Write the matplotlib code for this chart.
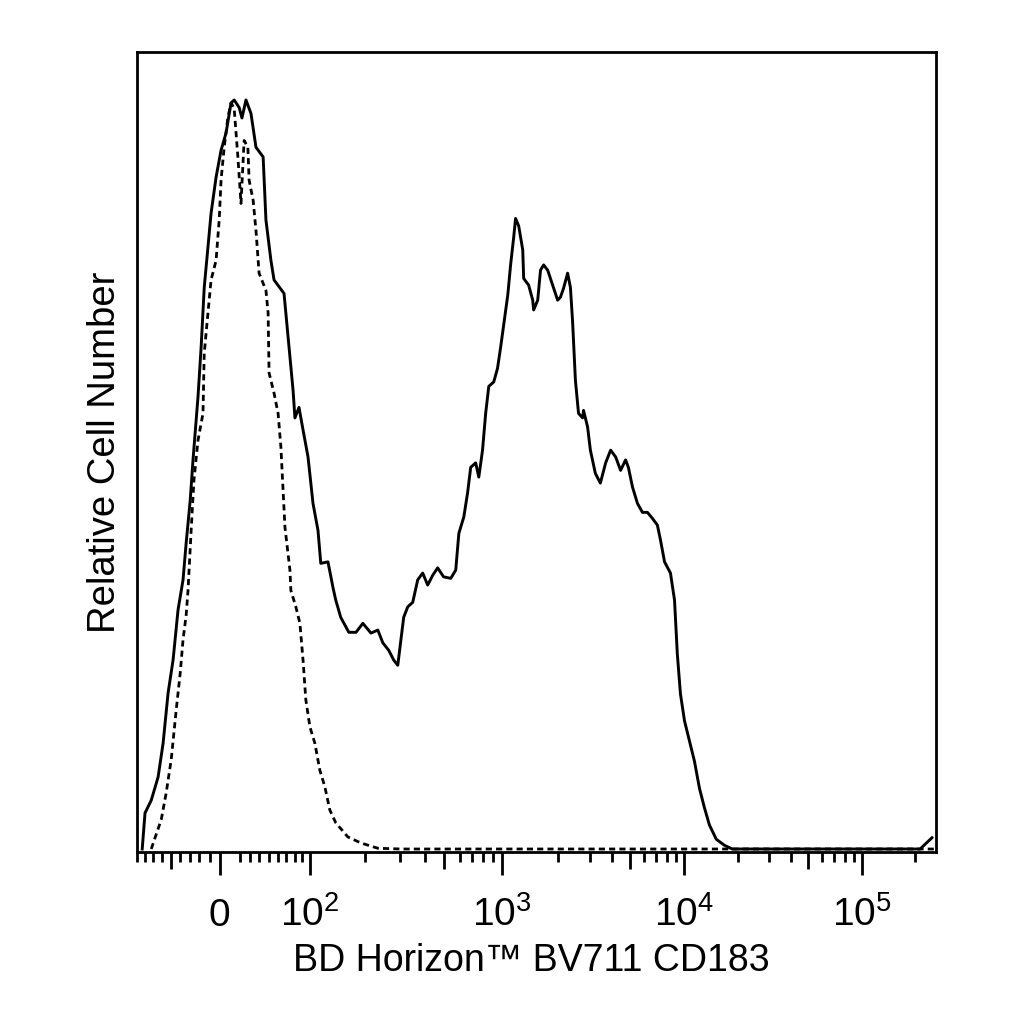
import numpy as np
import matplotlib
matplotlib.use("Agg")
import matplotlib.pyplot as plt

plt.rcParams['font.family'] = ['Liberation Sans', 'DejaVu Sans']
plt.rcParams['mathtext.fontset'] = 'custom'
plt.rcParams['mathtext.rm'] = 'Liberation Sans'

# histogram: x in display channels (0-256, biexponential), y = relative count
solid_ch = [1.3, 2.2, 4.2, 6.4, 8.0, 9.6, 11.2, 12.8, 14.4, 15.4,
            16.7, 17.6, 18.6, 19.2, 20.2, 21.2, 22.4, 23.4, 25.0, 26.6,
            28.2, 29.8, 30.8, 32.4, 33.3, 34.6, 36.2, 37.8, 40.1, 41.0,
            42.6, 43.6, 46.8, 48.1, 49.7, 50.3, 51.6, 52.9, 54.5, 56.1,
            57.7, 58.6, 60.9, 62.5, 63.4, 65.0, 67.6, 69.9, 72.1, 74.7,
            76.9, 78.5, 80.4, 82.0, 83.3, 84.3, 85.2, 86.5, 88.1, 89.7,
            91.3, 92.9, 94.5, 96.1, 98.0, 100.3, 101.9, 102.9, 104.5, 105.7,
            106.7, 108.3, 109.3, 110.5, 111.5, 112.5, 114.1, 115.3, 116.3, 117.3,
            118.6, 119.5, 120.5, 121.1, 122.1, 123.4, 123.7, 125.3, 126.6, 126.9,
            128.2, 129.1, 130.1, 131.4, 133.0, 134.6, 135.5, 136.5, 137.8, 138.7,
            139.4, 140.3, 141.3, 142.6, 142.9, 144.2, 145.1, 146.7, 148.3, 150.0,
            151.6, 153.2, 154.8, 156.4, 157.3, 158.6, 160.2, 161.8, 163.4, 165.0,
            166.6, 167.6, 168.9, 170.8, 172.1, 173.0, 174.0, 175.3, 176.9, 178.5,
            180.1, 181.7, 183.3, 185.5, 188.1, 190.6, 250.9, 254.7]
solid_count = [0, 4.8, 6.5, 9.6, 14.1, 20.8, 25.2, 31.9, 35.9, 40.8,
               46.5, 51.9, 57.2, 60.3, 66.9, 74.9, 80.3, 84.8, 89.6, 93.2,
               95.5, 99.5, 99.9, 98.9, 97.5, 99.9, 98.1, 93.6, 92.3, 83.9,
               78.5, 75.9, 74.1, 68.3, 61.2, 57.5, 58.9, 55.9, 52.3, 46.1,
               42.5, 38.1, 38.3, 34.9, 33.2, 30.9, 28.9, 28.9, 30.1, 28.8,
               29.2, 27.5, 26.5, 25.2, 24.5, 27.9, 30.9, 32.3, 32.9, 35.9,
               36.8, 35.2, 36.5, 37.5, 36.3, 36.1, 37.2, 42.1, 44.3, 47.5,
               50.9, 51.5, 49.6, 53.2, 58.1, 61.7, 62.3, 64.1, 66.9, 69.9,
               73.9, 77.9, 81.6, 84.1, 83.1, 79.9, 76.1, 75.2, 73.2, 71.9,
               73.2, 77.2, 77.9, 77.2, 75.2, 73.2, 73.6, 74.8, 76.8, 74.9,
               70.3, 62.5, 58.1, 57.5, 58.5, 56.3, 53.2, 50.1, 48.8, 51.5,
               53.2, 52.3, 50.5, 51.9, 50.9, 48.3, 46.1, 44.9, 44.9, 44.1,
               43.2, 41.2, 38.3, 36.8, 33.2, 26.0, 20.7, 17.1, 14.4, 11.7,
               8.1, 5.5, 3.2, 1.3, 0.5, 0, 0, 1.5]

dashed_ch = [4.2, 5.5, 7.4, 9.0, 10.6, 12.2, 13.5, 14.4, 15.4, 16.0,
             17.0, 17.9, 19.2, 20.8, 21.2, 22.4, 23.4, 25.0, 26.0, 26.6,
             27.6, 28.8, 29.8, 30.8, 32.0, 33.0, 34.0, 35.2, 35.6, 36.9,
             37.8, 38.8, 41.0, 41.7, 42.0, 43.6, 44.9, 45.8, 47.1, 48.7,
             49.0, 50.6, 51.9, 52.9, 53.8, 55.1, 56.7, 58.3, 59.9, 61.5,
             63.4, 67.3, 71.5, 76.9, 84.3, 255.7]
dashed_count = [0, 1.6, 3.9, 7.5, 11.9, 18.5, 23.5, 27.9, 31.2, 34.5,
                42.5, 49.2, 54.5, 58.1, 66.1, 71.5, 75.9, 78.5, 83.9, 89.2,
                93.6, 97.6, 99.5, 98.8, 92.3, 86.1, 94.5, 93.6, 89.2, 86.5,
                82.5, 76.8, 74.5, 71.5, 63.5, 60.8, 58.1, 53.6, 42.9, 37.2,
                34.5, 32.3, 30.1, 25.2, 19.9, 16.3, 14.1, 10.5, 8.3, 5.2,
                3.5, 1.6, 0.8, 0.1, 0, 0]

major_values = [0, 1e2, 1e3, 1e4, 1e5]
major_labels = ['0', r'$\mathregular{10^2}$', r'$\mathregular{10^3}$',
                r'$\mathregular{10^4}$', r'$\mathregular{10^5}$']
mid_values = [-50, 500, 5000, 50000]
minor_values = [-90, -80, -70, -60, -40, -30, -20, -10,
                20, 30, 40, 50, 60, 70, 80, 90,
                200, 300, 400, 600, 700, 800, 900,
                2000, 3000, 4000, 6000, 7000, 8000, 9000,
                20000, 30000, 40000, 60000, 70000, 80000, 90000,
                200000]


def logicle_channel(values, T=262144.0, M=4.5, W=0.46, n_channels=256):
    # biexponential (logicle) display: fluorescence value -> display channel
    ln10 = np.log(10)
    w = W * ln10
    m = M * ln10
    lo, hi = 1.0001, 20.0
    for _ in range(100):
        p = 0.5 * (lo + hi)
        if 2 * p * np.log(p) / (p + 1) > w:
            hi = p
        else:
            lo = p
    y = np.linspace(-0.2, 1.0, 20001) * m
    d = y - w
    ad = np.abs(d)
    s = np.sign(d) * T * np.exp(-(m - w)) * (np.exp(ad) - p**2 * np.exp(-ad / p) + p**2 - 1)
    return np.interp(values, s, y / m * n_channels)


fig = plt.figure(figsize=(10.24, 10.24), dpi=100)
ax = fig.add_axes([137 / 1024, 1 - 852 / 1024, 799 / 1024, 800 / 1024])

ax.plot(dashed_ch, dashed_count, color='black', lw=2.0, linestyle=(0, (2.2, 1.5)))
ax.plot(solid_ch, solid_count, color='black', lw=2.1)

ax.set_xlim(0, 256)
ax.set_ylim(-0.4, 106.3)

for sp in ax.spines.values():
    sp.set_linewidth(2.0)

ax.set_yticks([])
ax.set_xticks(logicle_channel(major_values))
ax.set_xticklabels(major_labels)
ax.set_xticks(logicle_channel(minor_values), minor=True)
ax.tick_params(axis='x', which='major', direction='out', length=16.5, width=2.0,
               pad=36.5, labelsize=28)
ax.tick_params(axis='x', which='minor', direction='out', length=7.2, width=2.0)
plt.setp(ax.get_xticklabels(), va='baseline')

sec = ax.secondary_xaxis('bottom')
sec.set_xticks(logicle_channel(mid_values))
sec.set_xticklabels([])
sec.tick_params(direction='out', length=12, width=2.0)
sec.spines['bottom'].set_visible(False)

ax.set_xlabel('BD Horizon\u2122 BV711 CD183', fontsize=27)
ax.xaxis.label.set_va('baseline')
ax.xaxis.set_label_coords(0.493, -0.149)
ax.set_ylabel('Relative Cell Number', fontsize=27.5)
ax.yaxis.set_label_coords(-0.0175, 0.5)

fig.savefig('out.png', dpi=100)
